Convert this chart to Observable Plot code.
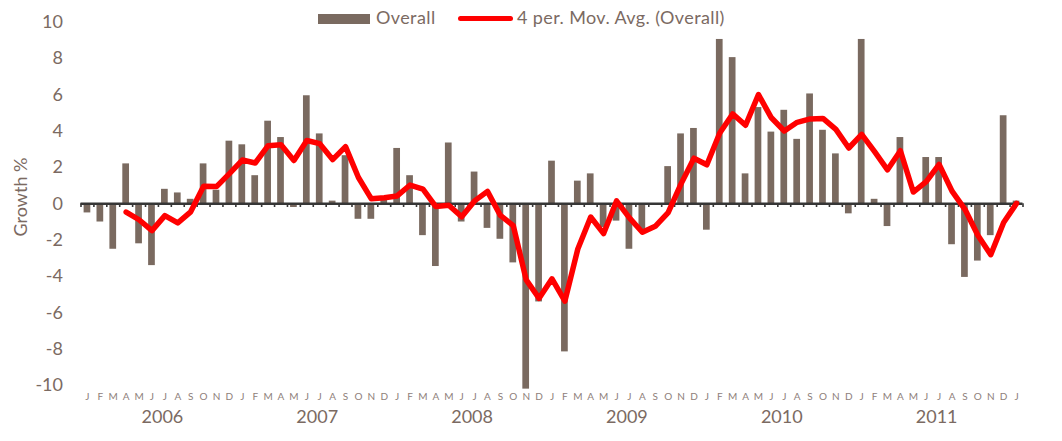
<!DOCTYPE html>
<html>
<head>
<meta charset="utf-8">
<script src="https://cdn.jsdelivr.net/npm/d3@7"></script>
<script src="https://cdn.jsdelivr.net/npm/@observablehq/plot@0.6"></script>
<style>
  body { margin: 0; background: #ffffff; }
  #wrap { position: relative; width: 1062px; height: 441px; font-family: Lato, "Open Sans", sans-serif; color: #7b6a62; }
  #chart { position: absolute; left: 0; top: 0; }
  .lg { position: absolute; white-space: nowrap; font-size: 18px; line-height: 18px; letter-spacing: 0.4px; color: #7b6a62; }
  .sw-bar { position: absolute; left: 318px; top: 14px; width: 52px; height: 10px; background: #7a6a60; }
  .sw-line { position: absolute; left: 458px; top: 15.5px; width: 55px; height: 5.5px; background: #ff0000; border-radius: 3px; }
  #ylab { position: absolute; left: 20px; top: 197px; transform: translate(-50%, -50%) rotate(-90deg); font-size: 18px; white-space: nowrap; color: #7b6a62; }
</style>
</head>
<body>
<div id="wrap">
  <div id="chart"></div>
  <div class="sw-bar"></div>
  <div class="lg" style="left:376px; top:8px;">Overall</div>
  <div class="sw-line"></div>
  <div class="lg" style="left:517px; top:8px;">4 per. Mov. Avg. (Overall)</div>
  <div id="ylab">Growth %</div>
</div>
<script>
// ---- data ----
const years = [2006, 2007, 2008, 2009, 2010, 2011, 2012];
const monthLetters = ["J","F","M","A","M","J","J","A","S","O","N","D"];
const growth2006 = [-0.5, -1.0, -2.5, 2.2, -2.2, -3.4, 0.8, 0.6, 0.25, 2.2, 0.75, 3.45];
const growth2007 = [3.25, 1.55, 4.55, 3.65, -0.2, 5.95, 3.85, 0.15, 2.65, -0.85, -0.85, 0.4];
const growth2008 = [3.05, 1.55, -1.75, -3.45, 3.35, -1.0, 1.75, -1.35, -1.95, -3.25, -10.2, -5.4];
const growth2009 = [2.35, -8.15, 1.25, 1.65, -1.3, -0.95, -2.5, -1.5, 0.0, 2.05, 3.85, 4.15];
const growth2010 = [-1.45, 9.05, 8.05, 1.65, 5.3, 3.95, 5.15, 3.55, 6.05, 4.05, 2.75, -0.55];
const growth2011 = [9.05, 0.25, -1.25, 3.65, -0.05, 2.55, 2.55, -2.25, -4.05, -3.15, -1.75, 4.85];
const growth2012 = [0.15];
const yTicks = [-10, -8, -6, -4, -2, 0, 2, 4, 6, 8, 10];
const yearLabels = [2006, 2007, 2008, 2009, 2010, 2011];

const byYear = [growth2006, growth2007, growth2008, growth2009, growth2010, growth2011, growth2012];
const data = [];
years.forEach((yr, yi) => byYear[yi].forEach((v, m) => {
  data.push({ key: `${yr}-${String(m + 1).padStart(2, "0")}`, month: m, year: yr, value: v });
}));
const keys = data.map(d => d.key);

const W = 1062, H = 441, mL = 80.5, mR = 39.5, mT = 21.7, mB = 56;
const step = (W - mL - mR) / keys.length;
const textColor = "#7b6a62";

const chart = Plot.plot({
  width: W, height: H,
  marginLeft: mL, marginRight: mR, marginTop: mT, marginBottom: mB,
  style: { fontFamily: "Lato, 'Open Sans', sans-serif", color: textColor, background: "transparent", overflow: "visible" },
  x: { type: "band", domain: keys, paddingInner: 0.48, paddingOuter: 0.24, axis: null },
  y: { domain: [-10, 10], axis: null },
  marks: [
    Plot.barY(data, { x: "key", y: "value", fill: "#7a6a60" }),
    Plot.ruleY([0], { stroke: "#363636", strokeWidth: 2.5 }),
    Plot.ruleX(data, { x: "key", y1: 0, y2: -0.2, dx: step / 2, stroke: "#363636", strokeWidth: 1.6 }),
    Plot.ruleX([keys[0]], { x: d => d, y1: 0, y2: -0.2, dx: -step / 2, stroke: "#363636", strokeWidth: 1.6 }),
    Plot.line(data, Plot.windowY({ k: 4, anchor: "end", reduce: "mean", strict: true },
      { x: "key", y: "value", stroke: "#ff0000", strokeWidth: 5.5, strokeLinejoin: "round", strokeLinecap: "round" })),
    Plot.axisY(yTicks, { tickSize: 0, tickPadding: 18, fontSize: 18, label: null, fill: textColor, tickFormat: d => String(d) }),
    Plot.axisX({ tickSize: 0, tickPadding: 7, fontSize: 10, label: null, fill: "#8e807a",
      tickFormat: k => monthLetters[+k.slice(5) - 1] }),
    Plot.text(yearLabels, { x: y => `${y}-07`, text: y => String(y), frameAnchor: "bottom", dy: 37.5, dx: -2.5, fontSize: 18, fill: textColor })
  ]
});
document.getElementById("chart").appendChild(chart);
</script>
</body>
</html>
